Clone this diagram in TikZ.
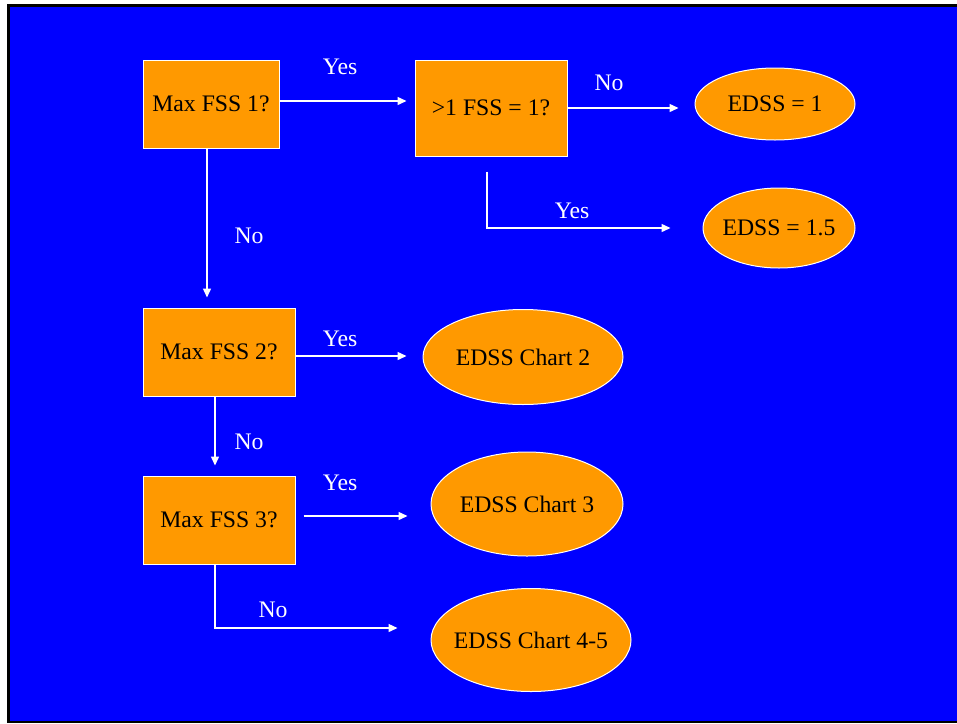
\documentclass[tikz,border=0pt]{standalone}
\usepackage{fontspec}
\setmainfont{Liberation Serif}
\newfontfamily\tnrfont{Liberation Serif}
\usetikzlibrary{shapes.geometric,arrows.meta}
\definecolor{bgblue}{RGB}{0,0,255}
\definecolor{boxorange}{RGB}{255,153,0}
\tikzset{
  qbox/.style={draw=white, line width=1pt, fill=boxorange, rectangle, inner sep=0pt, text=black, font=\tnrfont\fontsize{23.7}{26}\selectfont},
  ebox/.style={draw=white, line width=1pt, fill=boxorange, ellipse, inner xsep=-14pt, inner ysep=0pt, text=black, font=\tnrfont\fontsize{23.7}{26}\selectfont},
  lbl/.style={text=white, inner sep=0pt, font=\tnrfont\fontsize{23.7}{26}\selectfont},
  arr/.style={draw=white, line width=1.4pt, -{Triangle[length=9pt,width=8pt]}}
}
\begin{document}
\begin{tikzpicture}[x=1pt,y=-1pt]
\useasboundingbox (0,0) rectangle (957,723);
\fill[black] (7,4) rectangle (957,723);
\fill[bgblue] (10,7) rectangle (957,721);
% decision boxes
\node[qbox, minimum width=136pt, minimum height=88pt] (b1) at (211,104) {Max FSS 1?};
\node[qbox, minimum width=152pt, minimum height=96pt] (b2) at (491,108) {>1 FSS = 1?};
\node[qbox, minimum width=152pt, minimum height=88pt] (b3) at (219,352) {Max FSS 2?};
\node[qbox, minimum width=152pt, minimum height=88pt] (b4) at (219,520) {Max FSS 3?};
% outcomes
\node[ebox, minimum width=160pt, minimum height=72pt] (e1) at (775,104) {EDSS = 1};
\node[ebox, minimum width=152pt, minimum height=80pt] (e15) at (779,228) {EDSS = 1.5};
\node[ebox, minimum width=200pt, minimum height=95pt] (e2) at (523,357) {EDSS Chart 2};
\node[ebox, minimum width=192pt, minimum height=104pt] (e3) at (527,504) {EDSS Chart 3};
\node[ebox, minimum width=200pt, minimum height=103pt] (e45) at (531,640) {EDSS Chart 4-5};
% helper coordinates
\coordinate (y1) at (0,101);
\coordinate (y2) at (0,108);
\coordinate (y3) at (0,228);
\coordinate (x2) at (487,0);
\coordinate (y4) at (0,356);
\coordinate (y5) at (0,516);
\coordinate (y6) at (0,628);
\coordinate (x1) at (207,0);
\coordinate (x3) at (215,0);
% connectors
\draw[arr, shorten >=8pt] (b1.east |- y1) -- (b2.west |- y1);
\draw[arr, shorten >=16pt] (b2.east |- y2) -- (e1.west |- y2);
\draw[arr, shorten >=32pt, shorten <=15pt] (x2 |- b2.south) -- (x2 |- y3) -- (e15.west |- y3);
\draw[arr, shorten >=10pt] (x1 |- b1.south) -- (x1 |- b3.north);
\draw[arr, shorten >=16pt] (b3.east |- y4) -- (e2.west |- y4);
\draw[arr, shorten >=10pt] (x3 |- b3.south) -- (x3 |- b4.north);
\draw[arr, shorten >=23pt, shorten <=8pt] (b4.east |- y5) -- (e3.west |- y5);
\draw[arr, shorten >=33pt] (x3 |- b4.south) -- (x3 |- y6) -- (e45.west |- y6);
% labels
\node[lbl] (l1) at (340,67) {Yes};
\node[lbl] (l2) at (609,83) {No};
\node[lbl] (l3) at (572,211) {Yes};
\node[lbl] (l4) at (249,236) {No};
\node[lbl] (l5) at (340,339) {Yes};
\node[lbl] (l6) at (249,442) {No};
\node[lbl] (l7) at (340,483) {Yes};
\node[lbl] (l8) at (273,610) {No};
\end{tikzpicture}
\end{document}
